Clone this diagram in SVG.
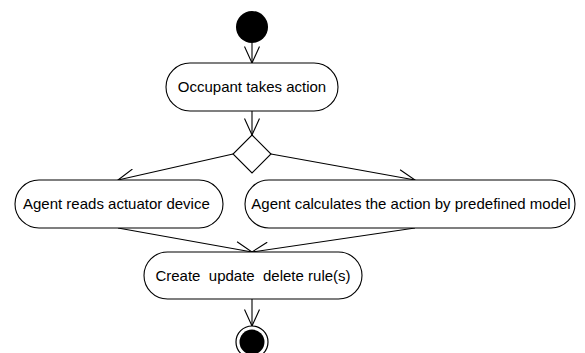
<svg xmlns="http://www.w3.org/2000/svg" width="585" height="353" viewBox="0 0 585 353">
  <style>
    .act { fill: #fff; stroke: #000; stroke-width: 1.1; }
    .lbl { font-family: "Liberation Sans", Arial, sans-serif; font-size: 15px; fill: #000; white-space: pre; }
    .flow { fill: none; stroke: #000; stroke-width: 1.1; }
  </style>
  <defs>
    <!-- open V-shaped arrowhead used by every control flow -->
    <marker id="open" viewBox="0 0 18 16" refX="17" refY="8" markerWidth="18" markerHeight="16" markerUnits="userSpaceOnUse" orient="auto">
      <path d="M0.5,0.5 L17,8 L0.5,15.5" fill="none" stroke="#000" stroke-width="1.1"/>
    </marker>
  </defs>
  <rect width="585" height="353" fill="#fff"/>

  <g id="connectors">
    <line class="flow" x1="252" y1="43" x2="252" y2="63" marker-end="url(#open)"/>
    <line class="flow" x1="252" y1="111" x2="252" y2="135" marker-end="url(#open)"/>
    <line class="flow" x1="233" y1="154" x2="118" y2="180" marker-end="url(#open)"/>
    <line class="flow" x1="271" y1="154" x2="415" y2="180" marker-end="url(#open)"/>
    <line class="flow" x1="118" y1="228" x2="252" y2="252" marker-end="url(#open)"/>
    <line class="flow" x1="415" y1="228" x2="252" y2="252" marker-end="url(#open)"/>
    <line class="flow" x1="252" y1="299" x2="252" y2="326" marker-end="url(#open)"/>
  </g>

  <g id="start">
    <circle cx="252" cy="27" r="16" fill="#000"/>
  </g>

  <g id="occupant-action">
    <rect class="act" x="166" y="63" width="172" height="48" rx="24" ry="24"/>
    <text class="lbl" x="252" y="92" text-anchor="middle">Occupant takes action</text>
  </g>

  <g id="decision">
    <polygon class="act" points="252,135 271,154 252,173 233,154"/>
  </g>

  <g id="read-actuator">
    <rect class="act" x="15" y="180" width="208" height="48" rx="24" ry="24"/>
    <text class="lbl" x="23" y="209">Agent reads actuator device</text>
  </g>

  <g id="calculate-action">
    <rect class="act" x="245" y="180" width="330" height="48" rx="24" ry="24"/>
    <text class="lbl" x="411" y="209" text-anchor="middle">Agent calculates the action by predefined model</text>
  </g>

  <g id="update-rules">
    <rect class="act" x="144" y="252" width="218" height="47" rx="23.5" ry="23.5"/>
    <text class="lbl" x="253" y="281" text-anchor="middle">Create  update  delete rule(s)</text>
  </g>

  <g id="end">
    <circle cx="252" cy="342" r="16" fill="#fff" stroke="#000" stroke-width="1.2"/>
    <circle cx="252" cy="342" r="12.5" fill="#000"/>
  </g>
</svg>
